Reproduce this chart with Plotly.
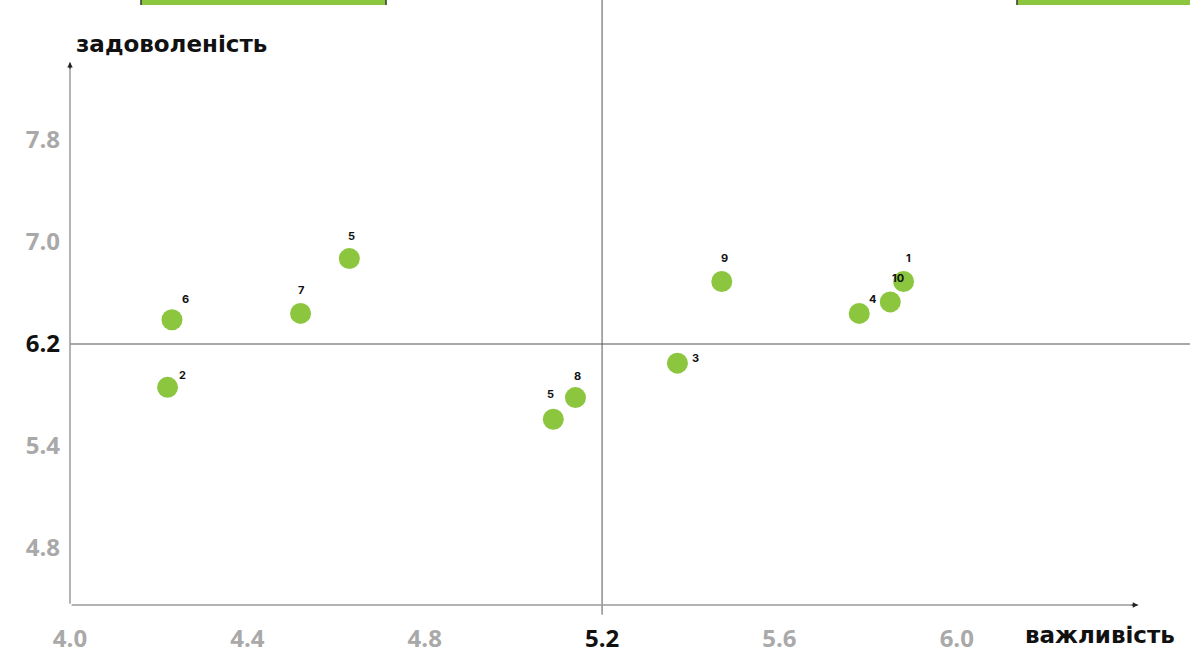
import plotly.graph_objects as go

# Importance (x) vs satisfaction (y) for each numbered item
labels = ["6", "2", "7", "5", "5", "8", "3", "9", "4", "10", "1"]
importance = [4.23, 4.22, 4.52, 4.63, 5.09, 5.14, 5.37, 5.47, 5.78, 5.85, 5.88]
satisfaction = [6.39, 5.86, 6.44, 6.87, 5.61, 5.78, 6.05, 6.69, 6.44, 6.53, 6.69]

# Quadrant split values
x_split = 5.2
y_split = 6.2

# Axis ticks
x_ticks = [4.0, 4.4, 4.8, 5.2, 5.6, 6.0]
x_tick_text = ["4.0", "4.4", "4.8", "5.2", "5.6", "6.0"]
y_ticks = [7.8, 7.0, 6.2, 5.4, 4.6]
y_tick_text = ["7.8", "7.0", "6.2", "5.4", "4.8"]

x_title = "важливість"
y_title = "задоволеність"

# Pixel offsets of the number labels relative to their points
label_dx = [14, 15, 0, 2, -3, 2, 18, 3, 13, 8, 5]
label_dy = [21, 12, 23, 23, 25, 22, 5, 24, 14, 24, 24]

GREEN = "#8cc63f"
GRAY_TICK = "#a9a9a9"
AXIS_GRAY = "#9a9a9a"
FONT = "Inter"
TICK_FONT = "Open Sans"
TITLE_FONT = "DejaVu Sans"

x_range = [4.0, 6.526]
y_range = [4.153, 8.898]

PLOT_L, PLOT_R, PLOT_T, PLOT_B = 70, 1190, 0, 605


def tick_markup(vals, texts, split):
    out = []
    for v, t in zip(vals, texts):
        if abs(v - split) < 1e-9:
            out.append(f"<span style='color:#111111'>{t}</span>")
        else:
            out.append(t)
    return out


def px_to_paper(px, py):
    return (px - PLOT_L) / (PLOT_R - PLOT_L), 1 - (py - PLOT_T) / (PLOT_B - PLOT_T)


fig = go.Figure()

fig.add_trace(go.Scatter(
    x=importance, y=satisfaction, mode="markers",
    marker=dict(size=21, color=GREEN, line=dict(width=0)),
    hoverinfo="skip", showlegend=False,
))

annotations = []
for lab, xv, yv, dx, dy in zip(labels, importance, satisfaction, label_dx, label_dy):
    annotations.append(dict(
        x=xv, y=yv, text=f"<b>{lab}</b>", showarrow=False,
        xshift=dx, yshift=dy, font=dict(family=FONT, size=11, color="#111111"),
    ))

# Axis arrows (grey lines with small dark heads)
annotations.append(dict(
    x=4.0, y=8.41, ax=0, ay=543, xref="x", yref="y", axref="pixel", ayref="pixel",
    showarrow=True, arrowhead=0, arrowwidth=1.5, arrowcolor=AXIS_GRAY, text="",
))
annotations.append(dict(
    x=4.0, y=8.41, ax=0, ay=8, showarrow=True, arrowhead=2, arrowsize=0.9,
    arrowwidth=1.2, arrowcolor="#222222", text="",
))
annotations.append(dict(
    x=6.409, y=y_range[0], ax=-1068, ay=0, axref="pixel", ayref="pixel",
    showarrow=True, arrowhead=0, arrowwidth=1.5, arrowcolor=AXIS_GRAY, text="",
))
annotations.append(dict(
    x=6.409, y=y_range[0], ax=-8, ay=0, showarrow=True, arrowhead=2, arrowsize=0.9,
    arrowwidth=1.2, arrowcolor="#222222", text="",
))

# Axis titles
tx, ty = px_to_paper(74, 44)
annotations.append(dict(
    x=tx, y=ty, xref="paper", yref="paper", text=f"<b>{y_title}</b>",
    showarrow=False, xanchor="left", yanchor="middle",
    font=dict(family=TITLE_FONT, size=23, color="#111111"),
))
tx, ty = px_to_paper(1177, 635)
annotations.append(dict(
    x=tx, y=ty, xref="paper", yref="paper", text=f"<b>{x_title}</b>",
    showarrow=False, xanchor="right", yanchor="middle",
    font=dict(family=TITLE_FONT, size=23, color="#111111"),
))

bx0, by0 = px_to_paper(141, 5)
bx1, _ = px_to_paper(386, 0)
cx0, _ = px_to_paper(1017, 0)
shapes = [
    # quadrant lines
    dict(type="line", xref="x", yref="paper", x0=x_split, x1=x_split, y0=-0.016, y1=1,
         line=dict(color="#555555", width=1)),
    dict(type="line", xref="paper", yref="y", x0=0, x1=1, y0=y_split, y1=y_split,
         line=dict(color="#555555", width=1)),
    # strip of the table row above the chart
    dict(type="rect", xref="paper", yref="paper", x0=bx0, x1=bx1, y0=by0, y1=1.01,
         fillcolor=GREEN, line=dict(width=0)),
    dict(type="rect", xref="paper", yref="paper", x0=cx0, x1=1.0, y0=by0, y1=1.01,
         fillcolor=GREEN, line=dict(width=0)),
    dict(type="line", xref="paper", yref="paper", x0=bx0, x1=bx0, y0=by0, y1=1.01,
         line=dict(color="#333333", width=1.5)),
    dict(type="line", xref="paper", yref="paper", x0=bx1, x1=bx1, y0=by0, y1=1.01,
         line=dict(color="#333333", width=1.5)),
    dict(type="line", xref="paper", yref="paper", x0=cx0, x1=cx0, y0=by0, y1=1.01,
         line=dict(color="#333333", width=1.5)),
]

fig.update_layout(
    width=1190, height=654,
    margin=dict(l=PLOT_L, r=0, t=PLOT_T, b=654 - PLOT_B),
    paper_bgcolor="white", plot_bgcolor="white",
    showlegend=False,
    xaxis=dict(
        range=x_range, showgrid=False, zeroline=False, showline=False,
        tickmode="array", tickvals=x_ticks,
        ticktext=tick_markup(x_ticks, x_tick_text, x_split),
        tickfont=dict(family=TICK_FONT, size=24, color=GRAY_TICK, weight="bold"),
        ticks="", ticklabelstandoff=17,
    ),
    yaxis=dict(
        range=y_range, showgrid=False, zeroline=False, showline=False,
        tickmode="array", tickvals=y_ticks,
        ticktext=tick_markup(y_ticks, y_tick_text, y_split),
        tickfont=dict(family=TICK_FONT, size=24, color=GRAY_TICK, weight="bold"),
        ticks="", ticklabelstandoff=9,
    ),
    annotations=annotations,
    shapes=shapes,
)

fig.write_html("out.html")
